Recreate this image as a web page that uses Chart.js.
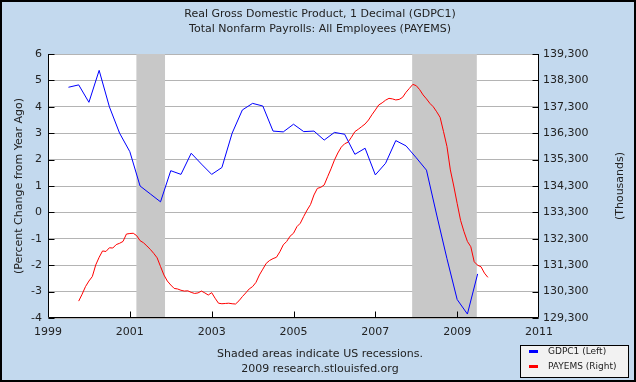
<!DOCTYPE html>
<html><head><meta charset="utf-8">
<script src="https://cdn.jsdelivr.net/npm/chart.js@4.4.0/dist/chart.umd.min.js"></script>
<style>html,body{margin:0;padding:0;background:#C3D9EE;}canvas{display:block}</style>
</head><body>
<canvas id="c" width="636" height="382"></canvas>
<script>
const titleLines = ['Real Gross Domestic Product, 1 Decimal (GDPC1)', 'Total Nonfarm Payrolls: All Employees (PAYEMS)'];
const footerLines = ['Shaded areas indicate US recessions.', '2009 research.stlouisfed.org'];
const leftAxisTitle = '(Percent Change from Year Ago)';
const rightAxisTitle = '(Thousands)';
const legendLabels = ['GDPC1 (Left)', 'PAYEMS (Right)'];
const xTicks = [1999, 2001, 2003, 2005, 2007, 2009, 2011];
const leftTicks = [-4, -3, -2, -1, 0, 1, 2, 3, 4, 5, 6];
const rightTicks = [129300, 130300, 131300, 132300, 133300, 134300, 135300, 136300, 137300, 138300, 139300];
const recessions = [[2001.16, 2001.86], [2007.9, 2009.48]];

// GDPC1: percent change from year ago, quarterly, starting 1999 Q3
const gdpStartYear = 1999, gdpStartQuarter = 3;
const gdpValues = [4.74, 4.83,
  4.17, 5.38, 4.0, 3.0,
  2.3, 1.0, 0.7, 0.4,
  1.58, 1.44, 2.24, 1.83,
  1.44, 1.7, 3.0, 3.88,
  4.13, 4.03, 3.08, 3.05,
  3.34, 3.06, 3.08, 2.74,
  3.03, 2.96, 2.2, 2.43,
  1.42, 1.86, 2.72, 2.52,
  2.07, 1.6, -0.1, -1.75,
  -3.3, -3.85, -2.33];

// PAYEMS: thousands, monthly, starting Oct 1999
const payStartYear = 1999, payStartMonth = 10;
const payValues = [129940, 130200, 130490,
  130700, 130870, 131310, 131600, 131840, 131820, 131960, 131950, 132080, 132130, 132200, 132480,
  132500, 132510, 132420, 132230, 132150, 132030, 131900, 131750, 131580, 131250, 130930, 130700,
  130550, 130420, 130400, 130350, 130320, 130330, 130270, 130230, 130250, 130320, 130250, 130170,
  130260, 130050, 129860, 129840, 129850, 129860, 129840, 129830, 129950, 130110, 130250, 130400,
  130490, 130650, 130930, 131150, 131370, 131480, 131550, 131600, 131810, 132070, 132200, 132400,
  132510, 132760, 132890, 133150, 133390, 133600, 133960, 134210, 134250, 134340, 134650, 134950,
  135280, 135550, 135770, 135900, 135960, 136150, 136360, 136450, 136550, 136650, 136800, 137000,
  137180, 137370, 137450, 137550, 137620, 137600, 137560, 137580, 137660, 137850, 138000, 138150,
  138100, 137950, 137750, 137600, 137430, 137300, 137110, 136900, 136360, 135800, 134910, 134300,
  133640, 133000, 132570, 132200, 132000, 131430, 131300, 131240, 131000, 130840];

const gdpData = gdpValues.map((v, i) => ({x: gdpStartYear + (gdpStartQuarter - 1) / 4 + i * 0.25, y: v}));
const payData = payValues.map((v, i) => ({x: payStartYear + (payStartMonth - 1) / 12 + i / 12, y: v}));

const FONT = '"DejaVu Sans", Verdana, sans-serif';
const BG = '#C3D9EE';

const decor = {
  id: 'decor',
  beforeDraw(chart) {
    const {ctx, chartArea: a} = chart;
    ctx.save();
    ctx.fillStyle = BG;
    ctx.fillRect(0, 0, chart.width, chart.height);
    ctx.fillStyle = '#FFFFFF';
    ctx.fillRect(a.left, a.top, a.right - a.left, a.bottom - a.top);
    ctx.fillStyle = '#222222';
    ctx.textAlign = 'center';
    ctx.textBaseline = 'middle';
    ctx.font = '11px ' + FONT;
    ctx.fillText(titleLines[0], 320, 14);
    ctx.fillText(titleLines[1], 320, 29);
    ctx.fillText(footerLines[0], 320, 354);
    ctx.fillText(footerLines[1], 320, 369);
    const cy = (a.top + a.bottom) / 2;
    ctx.save(); ctx.translate(19, cy); ctx.rotate(-Math.PI / 2); ctx.fillText(leftAxisTitle, 0, 0); ctx.restore();
    ctx.save(); ctx.translate(620, cy); ctx.rotate(-Math.PI / 2); ctx.fillText(rightAxisTitle, 0, 0); ctx.restore();
    ctx.restore();
  },
  beforeDatasetsDraw(chart) {
    const {ctx, chartArea: a, scales: {x}} = chart;
    ctx.save();
    ctx.fillStyle = '#C8C8C8';
    recessions.forEach(([s, e]) => {
      const x1 = x.getPixelForValue(s), x2 = x.getPixelForValue(e);
      ctx.fillRect(x1, a.top, x2 - x1, a.bottom - a.top);
    });
    ctx.restore();
  },
  afterDatasetsDraw(chart) {
    const {ctx, chartArea: a, scales: {x, y}} = chart;
    ctx.save();
    ctx.strokeStyle = '#000';
    ctx.lineWidth = 1;
    ctx.beginPath();
    const L = Math.round(a.left) + 0.5, R = Math.round(a.right) - 0.5, B = Math.round(a.bottom) - 0.5;
    ctx.moveTo(L, a.top); ctx.lineTo(L, B); ctx.lineTo(R, B); ctx.lineTo(R, a.top);
    leftTicks.forEach(t => {
      const py = Math.round(y.getPixelForValue(t)) + 0.5;
      ctx.moveTo(L, py); ctx.lineTo(L + 6, py);
      ctx.moveTo(R, py); ctx.lineTo(R - 6, py);
    });
    xTicks.slice(1, -1).forEach(t => {
      const px = Math.round(x.getPixelForValue(t)) + 0.5;
      ctx.moveTo(px, B); ctx.lineTo(px, B - 6);
    });
    ctx.stroke();
    // legend
    ctx.fillStyle = '#F2F2F2';
    ctx.fillRect(520.5, 345.5, 108, 32);
    ctx.strokeRect(520.5, 345.5, 108, 32);
    ctx.lineWidth = 3;
    ctx.strokeStyle = '#0000FF';
    ctx.beginPath(); ctx.moveTo(529, 351.5); ctx.lineTo(538, 351.5); ctx.stroke();
    ctx.strokeStyle = '#FF0000';
    ctx.beginPath(); ctx.moveTo(529, 366.5); ctx.lineTo(538, 366.5); ctx.stroke();
    ctx.fillStyle = '#222222';
    ctx.font = '9px ' + FONT;
    ctx.textAlign = 'left';
    ctx.textBaseline = 'middle';
    ctx.fillText(legendLabels[0], 548, 352);
    ctx.fillText(legendLabels[1], 548, 367);
    // outer border
    ctx.strokeStyle = '#000';
    ctx.lineWidth = 2;
    ctx.strokeRect(1, 1, chart.width - 2, chart.height - 2);
    ctx.restore();
  }
};

new Chart(document.getElementById('c'), {
  type: 'line',
  data: {
    datasets: [
      {label: legendLabels[0], data: gdpData, yAxisID: 'y', borderColor: '#0000FF', borderWidth: 1, pointRadius: 0, tension: 0, fill: false},
      {label: legendLabels[1], data: payData, yAxisID: 'y2', borderColor: '#FF0000', borderWidth: 1, pointRadius: 0, tension: 0, fill: false}
    ]
  },
  options: {
    responsive: false,
    animation: false,
    devicePixelRatio: 1,
    layout: {padding: {top: 54, left: 0, right: 0, bottom: 0}},
    plugins: {legend: {display: false}, title: {display: false}, tooltip: {enabled: false}},
    scales: {
      x: {
        type: 'linear', position: 'bottom', min: 1999, max: 2011,
        afterBuildTicks: s => { s.ticks = xTicks.map(v => ({value: v})); },
        afterFit: s => { s.height = 64; },
        grid: {display: false, drawTicks: false},
        border: {display: false},
        ticks: {padding: 8, color: '#222', font: {family: FONT, size: 11}, maxRotation: 0, autoSkip: false, callback: v => String(v)}
      },
      y: {
        type: 'linear', position: 'left', min: -4, max: 6,
        afterBuildTicks: s => { s.ticks = leftTicks.map(v => ({value: v})); },
        afterFit: s => { s.width = 48; },
        grid: {color: '#B4B4B4', drawTicks: false, lineWidth: 1},
        border: {display: false},
        ticks: {padding: 6, color: '#222', font: {family: FONT, size: 11}, callback: v => String(v)}
      },
      y2: {
        type: 'linear', position: 'right', min: 129300, max: 139300,
        afterBuildTicks: s => { s.ticks = rightTicks.map(v => ({value: v})); },
        afterFit: s => { s.width = 97; },
        grid: {display: false, drawTicks: false},
        border: {display: false},
        ticks: {padding: 4, color: '#222', font: {family: FONT, size: 11}, callback: v => v.toLocaleString('en-US')}
      }
    }
  },
  plugins: [decor]
});
</script>
</body></html>
